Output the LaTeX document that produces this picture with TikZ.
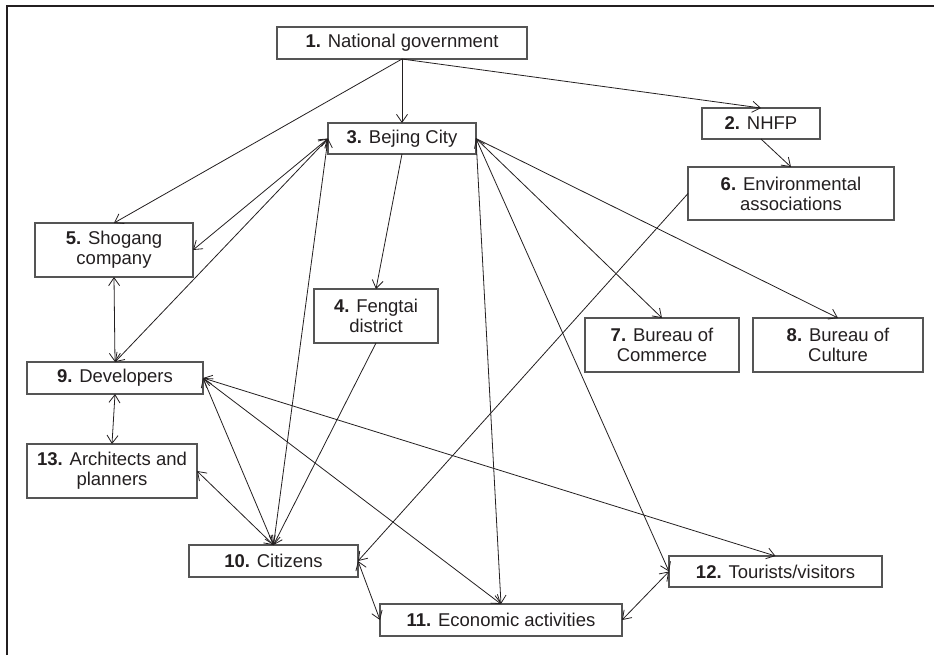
\documentclass[tikz,border=0pt]{standalone}
\usepackage{fontspec}
\setmainfont{Liberation Sans}
\usetikzlibrary{arrows.meta}
\definecolor{boxgray}{HTML}{555555}
\definecolor{inkgray}{HTML}{231F20}
\tikzset{
  % For the boxes of the actors.
  actor/.style={
    draw=boxgray,
    line width=0.55pt,
    inner sep=0pt,
    outer sep=0pt,
    align=center,
    text=inkgray,
    font=\fontsize{9.25pt}{10pt}\selectfont},
%
  % For relations that go one way.
  link/.style={
    line width=0.4pt,
    draw=inkgray,
    -{Straight Barb[length=4pt,width=5.5pt]}},
%
  % For relations that go both ways.
  mutual/.style={
    link,
    {Straight Barb[length=4pt,width=5.5pt]}-{Straight Barb[length=4pt,width=5.5pt]}},
%
  % For the cut frame round the figure.
  frame/.style={
    line width=1.1pt,
    draw=inkgray}
}

\begin{document}
\begin{tikzpicture}[x=0.5pt,y=-0.5pt]
  \useasboundingbox (0,0) rectangle (934,655);
  \draw[frame] (7,655) -- (7,6) -- (934,6);

  \node[actor, minimum width=125pt, minimum height=16pt]
    (national) at (402,43) {\textbf{1.} National government};
  \node[actor, minimum width=59pt, minimum height=15.5pt]
    (nhfp) at (761,123.5) {\textbf{2.} NHFP};
  \node[actor, minimum width=74pt, minimum height=15.5pt]
    (city) at (402,138.5) {\textbf{3.} Bejing City};
  \node[actor, minimum width=62pt, minimum height=27pt]
    (fengtai) at (376,316) {\textbf{4.} Fengtai\\district};
  \node[actor, minimum width=79pt, minimum height=27pt]
    (shogang) at (114,250) {\textbf{5.} Shogang\\company};
  \node[actor, minimum width=103pt, minimum height=26.5pt]
    (environment) at (791,193.5) {\textbf{6.} Environmental\\associations};
  \node[actor, minimum width=77pt, minimum height=27pt]
    (commerce) at (662,345) {\textbf{7.} Bureau of\\Commerce};
  \node[actor, minimum width=85pt, minimum height=27pt]
    (culture) at (838,345) {\textbf{8.} Bureau of\\Culture};
  \node[actor, minimum width=88pt, minimum height=16pt]
    (developers) at (115,378) {\textbf{9.} Developers};
  \node[actor, minimum width=84.5pt, minimum height=16pt]
    (citizens) at (273.5,561) {\textbf{10.} Citizens};
  \node[actor, minimum width=121pt, minimum height=16pt]
    (economy) at (501,620) {\textbf{11.} Economic activities};
  \node[actor, minimum width=106.5pt, minimum height=15.5pt]
    (tourists) at (775.5,571.5) {\textbf{12.} Tourists/visitors};
  \node[actor, minimum width=85pt, minimum height=27pt]
    (architects) at (112,471) {\textbf{13.} Architects and\\planners};

  % From the national level down.
  \draw[link] (national.south) -- (shogang.north);
  \draw[link] (national.south) -- (city.north);
  \draw[link] (national.south) -- (nhfp.north);
  \draw[link] (nhfp.south) -- (environment.north);

  % The city.
  \draw[mutual] (city.west) -- (shogang.east);
  \draw[mutual] (city.west) -- (developers.north);
  \draw[mutual] (city.west) -- (citizens.north);
  \draw[link] (city.south) -- (fengtai.north);
  \draw[link] (city.east) -- (commerce.north);
  \draw[link] (city.east) -- (culture.north);
  \draw[link] (city.east) -- (economy.north);
  \draw[mutual] (city.east) -- (tourists.west);

  \draw[link] (fengtai.south) -- (citizens.north);
  \draw[link] (environment.west) -- (citizens.east);

  % The developers.
  \draw[mutual] (shogang.south) -- (developers.north);
  \draw[mutual] (developers.south) -- (architects.north);
  \draw[mutual] (developers.east) -- (citizens.north);
  \draw[mutual] (developers.east) -- (economy.north);
  \draw[mutual] (developers.east) -- (tourists.north);

  \draw[mutual] (architects.east) -- (citizens.north);
  \draw[mutual] (citizens.east) -- (economy.west);
  \draw[mutual] (economy.east) -- (tourists.west);
\end{tikzpicture}
\end{document}
